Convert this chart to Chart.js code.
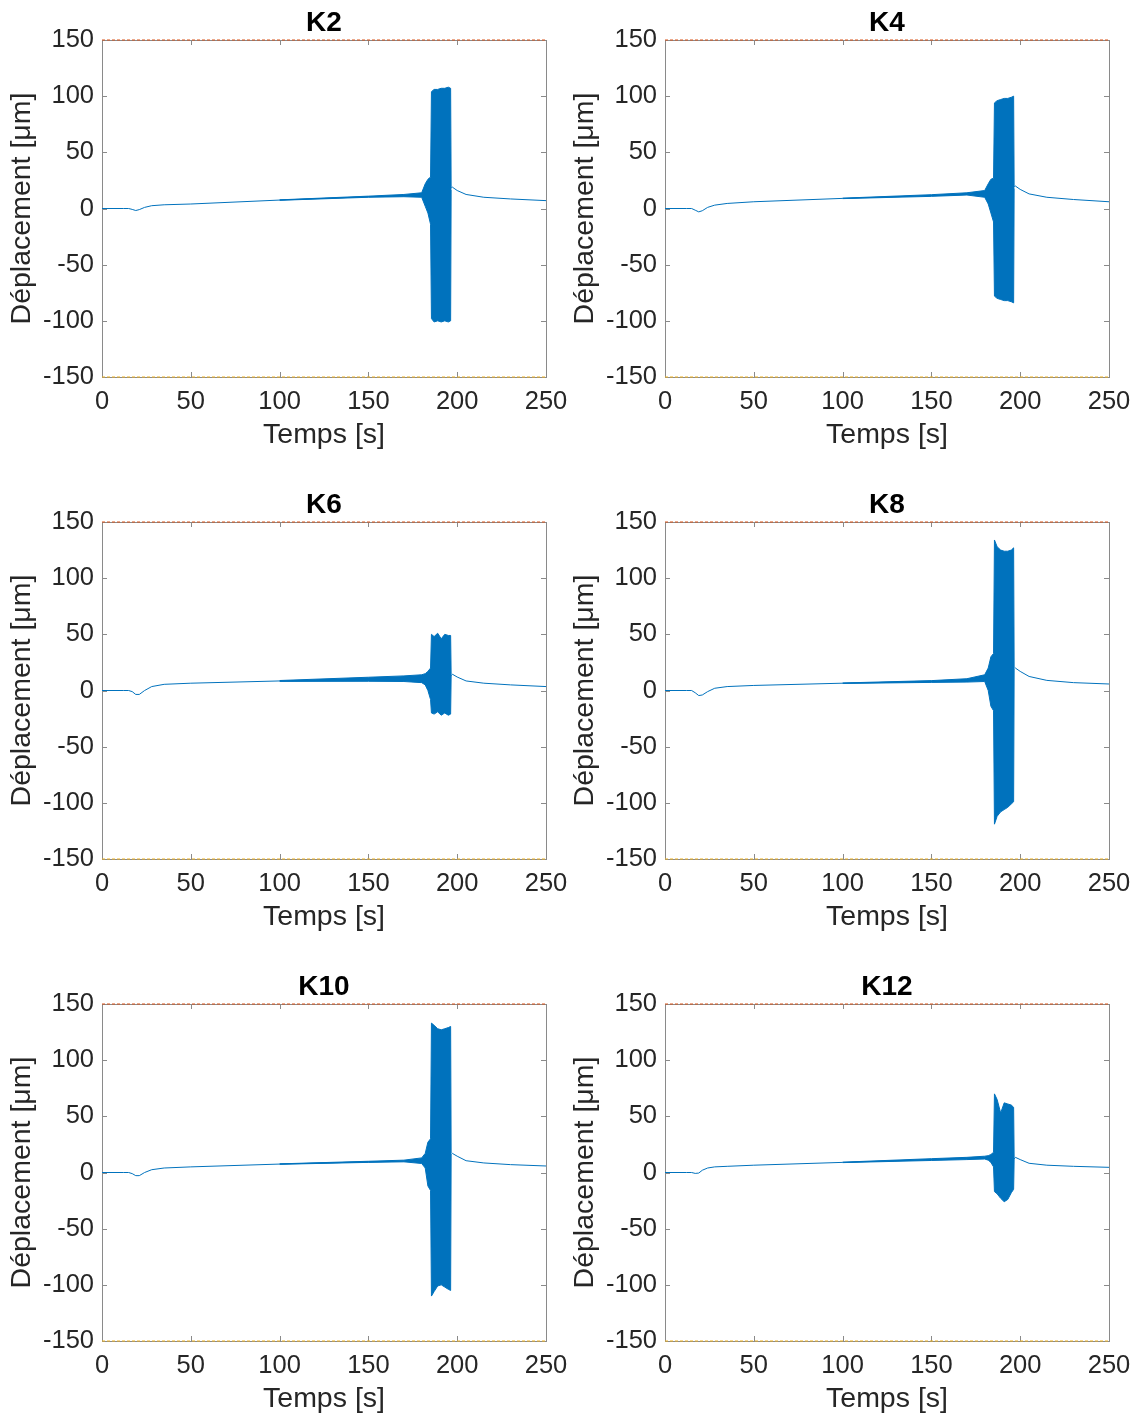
<!DOCTYPE html>
<html lang="fr">
<head>
<meta charset="utf-8">
<script src="https://cdn.jsdelivr.net/npm/chart.js@4/dist/chart.umd.min.js"></script>
<style>
  body { margin: 0; background: #fff; }
  #grille { position: relative; width: 1136px; height: 1414px; }
  #grille canvas { position: absolute; }
</style>
</head>
<body>
<div id="grille"></div>
<script>
// capteurs (un sous-graphe chacun)
const capteurs = ['K2', 'K4', 'K6', 'K8', 'K10', 'K12'];

// graduations
const ticksTemps = [0, 50, 100, 150, 200, 250];
const ticksDep = [-150, -100, -50, 0, 50, 100, 150];

// avant la salve
const tempsAvant = [0, 12, 15, 17, 19, 21, 24, 28, 35, 50, 100, 150, 180];
const avantK2  = [0, 0, 0, -0.8, -1.8, -1, 1, 2.5, 3.3, 4, 7.5, 10.5, 12];
const avantK4  = [0, 0, 0, -1.5, -3, -2, 1, 3, 4.5, 6, 9, 11.5, 13];
const avantK6  = [0, 0, 0, -1, -3.5, -3.5, 0, 3.5, 5.5, 6.5, 8.5, 10, 11];
const avantK8  = [0, 0, 0, -2, -4.5, -4, -1, 2, 3.5, 4.5, 6.5, 8, 10];
const avantK10 = [0, 0, 0, -1, -2.8, -2.8, 0, 2.5, 4, 5, 7.5, 9.5, 10.5];
const avantK12 = [0, 0, 0, -0.8, -0.5, 2, 4, 5, 5.5, 6.5, 9, 11.5, 13];

// enveloppe de la salve (haut / bas)
const tempsSalve = [100, 150, 170, 180, 182, 183.5, 185, 185.5, 187, 189, 191, 193, 195, 196.3, 196.6];
const hautK2  = [7.7, 11, 12.5, 14, 22, 26, 28, 104, 106, 106, 107, 107, 108, 107, 18];
const basK2   = [7.3, 10, 10.5, 10, 2, -4, -14, -98, -101, -100, -101, -100, -101, -100, 17];
const hautK4  = [9.2, 12.3, 14, 16, 22, 26, 27, 94, 96, 97, 98, 98, 99, 100, 19];
const basK4   = [8.8, 10.8, 12, 10, 4, -4, -12, -78, -80, -81, -82, -82, -83, -84, 18];
const hautK6  = [8.9, 11.8, 13, 14, 15, 17, 20, 50, 48, 51, 46, 50, 49, 49, 14];
const basK6   = [8.1, 8.2, 8, 7, 5, 0, -8, -20, -21, -19, -22, -20, -22, -21, 13];
const hautK8  = [6.7, 8.8, 10.5, 14, 20, 30, 33, 134, 128, 125, 124, 124, 125, 127, 20];
const basK8   = [6.3, 7.2, 7.5, 8, 0, -14, -18, -119, -112, -108, -106, -104, -101, -99, 19];
const hautK10 = [7.7, 10, 11, 13, 17, 27, 30, 133, 131, 128, 127, 128, 129, 130, 17];
const basK10  = [7.3, 9, 9.5, 8, 4, -12, -16, -110, -106, -101, -100, -102, -104, -105, 16];
const hautK12 = [9.2, 12.3, 13.5, 14.5, 15, 16, 18, 70, 65, 53, 62, 61, 60, 58, 13];
const basK12  = [8.8, 10.7, 11.5, 12, 11, 9, 5, -17, -19, -23, -26, -24, -18, -15, 12];

// apres la salve
const tempsApres = [196.6, 197.3, 200, 205, 215, 230, 250];
const apresK2  = [18, 19, 16, 12.5, 10, 8.5, 7];
const apresK4  = [19, 20, 17, 13, 10, 8, 6];
const apresK6  = [13, 14.5, 12, 8.5, 6.5, 5, 3.5];
const apresK8  = [19, 20, 17, 12.5, 9, 7, 5.8];
const apresK10 = [16, 17, 14.5, 10.5, 8.5, 7, 5.8];
const apresK12 = [12, 13.5, 11.5, 8.2, 6.5, 5.5, 4.6];

// limites tracees en pointille
const tempsLimite = [0, 250];
const limiteHaute = [150, 150];
const limiteBasse = [-150, -150];

const series = {
  K2:  [avantK2, hautK2, basK2, apresK2],
  K4:  [avantK4, hautK4, basK4, apresK4],
  K6:  [avantK6, hautK6, basK6, apresK6],
  K8:  [avantK8, hautK8, basK8, apresK8],
  K10: [avantK10, hautK10, basK10, apresK10],
  K12: [avantK12, hautK12, basK12, apresK12]
};

const bleu = '#0072BD';
const texte = '#262626';
const police = '"Liberation Sans", Arial, Helvetica, sans-serif';

const points = (xs, ys) => xs.map((x, i) => ({x: x, y: ys[i]}));

// cadre + graduations vers l'interieur (style MATLAB)
const cadre = {
  id: 'cadre',
  beforeDatasetsDraw(chart) {
    const {ctx, chartArea: a, scales: {x, y}} = chart;
    ctx.save();
    ctx.strokeStyle = '#8a8a8a';
    ctx.lineWidth = 1;
    ctx.strokeRect(a.left + 0.5, a.top + 0.5, a.width, a.height);
    ctx.beginPath();
    ticksTemps.forEach(v => {
      const px = Math.round(x.getPixelForValue(v)) + 0.5;
      ctx.moveTo(px, a.bottom); ctx.lineTo(px, a.bottom - 5);
      ctx.moveTo(px, a.top); ctx.lineTo(px, a.top + 5);
    });
    ticksDep.forEach(v => {
      const py = Math.round(y.getPixelForValue(v)) + 0.5;
      ctx.moveTo(a.left, py); ctx.lineTo(a.left + 5, py);
      ctx.moveTo(a.right, py); ctx.lineTo(a.right - 5, py);
    });
    ctx.stroke();
    ctx.restore();
  }
};

const grille = document.getElementById('grille');

capteurs.forEach((nom, i) => {
  const [avant, haut, bas, apres] = series[nom];
  const canvas = document.createElement('canvas');
  canvas.width = 568;
  canvas.height = 482;
  canvas.style.left = (i % 2 === 0 ? 0 : 563) + 'px';
  canvas.style.top = (Math.floor(i / 2) * 482) + 'px';
  grille.appendChild(canvas);

  new Chart(canvas, {
    type: 'line',
    data: {
      datasets: [
        {
          data: points(tempsLimite, limiteHaute),
          borderColor: '#D95319', borderWidth: 1, borderDash: [3, 2],
          pointRadius: 0, clip: 3
        },
        {
          data: points(tempsLimite, limiteBasse),
          borderColor: '#EDB120', borderWidth: 1, borderDash: [3, 2],
          pointRadius: 0, clip: 3
        },
        {
          data: points(tempsAvant, avant),
          borderColor: bleu, borderWidth: 1, pointRadius: 0
        },
        {
          data: points(tempsApres, apres),
          borderColor: bleu, borderWidth: 1, pointRadius: 0
        },
        {
          data: points(tempsSalve, haut),
          borderColor: bleu, borderWidth: 1, pointRadius: 0, fill: false
        },
        {
          data: points(tempsSalve, bas),
          borderColor: bleu, borderWidth: 1, pointRadius: 0,
          backgroundColor: bleu, fill: '-1'
        }
      ]
    },
    options: {
      responsive: false,
      animation: false,
      events: [],
      layout: {padding: {left: 0, right: 22, top: 0, bottom: 0}},
      plugins: {
        legend: {display: false},
        tooltip: {enabled: false},
        title: {
          display: true,
          text: nom,
          fullSize: false,
          color: '#000',
          font: {family: police, size: 28, weight: 'bold', lineHeight: 1.2},
          padding: {top: 6.4, bottom: 0}
        }
      },
      scales: {
        x: {
          type: 'linear',
          min: 0, max: 250,
          afterFit: s => { s.height = 105; s.paddingLeft = 0; s.paddingRight = 0; },
          afterBuildTicks: s => { s.ticks = ticksTemps.map(v => ({value: v})); },
          grid: {display: false, drawTicks: false},
          border: {display: false},
          ticks: {color: texte, padding: 10, maxRotation: 0, font: {family: police, size: 25.5}},
          title: {
            display: true, text: 'Temps [s]', color: texte,
            font: {family: police, size: 28.5},
            padding: {top: 0, bottom: 30}
          }
        },
        y: {
          type: 'linear',
          min: -150, max: 150,
          afterFit: s => { s.width = 102; s.paddingTop = 0; s.paddingBottom = 0; },
          afterBuildTicks: s => { s.ticks = ticksDep.map(v => ({value: v})); },
          grid: {display: false, drawTicks: false},
          border: {display: false},
          ticks: {color: texte, padding: 8, font: {family: police, size: 25.5}},
          title: {
            display: true, text: 'Déplacement [μm]', color: texte,
            font: {family: police, size: 28.5},
            padding: {top: 5, bottom: 0}
          }
        }
      }
    },
    plugins: [cadre]
  });
});
</script>
</body>
</html>
